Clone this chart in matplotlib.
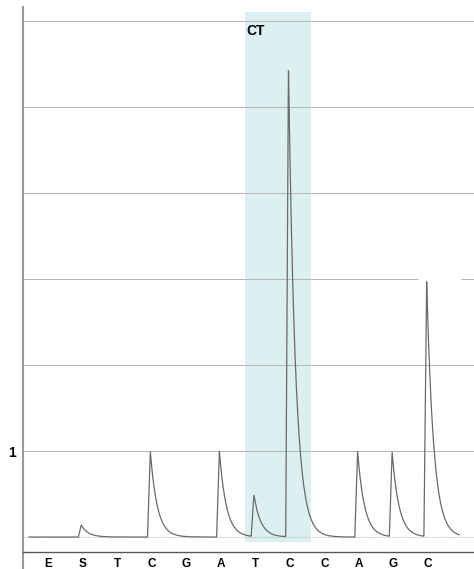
import matplotlib
matplotlib.use("Agg")
import matplotlib.pyplot as plt
import numpy as np

plt.rcParams['font.family'] = ['Liberation Sans', 'DejaVu Sans']

# dispensation order and peak heights (single-nucleotide units)
letters = ['E', 'S', 'T', 'C', 'G', 'A', 'T', 'C', 'C', 'A', 'G', 'C']
heights = [0.0, 0.14, 0.0, 1.0, 0.0, 1.0, 0.48, 5.47, 0.0, 1.0, 0.98, 2.97]
grid_levels = [0, 1, 2, 3, 4, 5, 6]
snp_label = 'CT'
snp_span = (5.70, 7.61)

fig = plt.figure(figsize=(4.74, 5.69), dpi=100)
ax = fig.add_axes([23/474, 17/569, 451/474, 545/569])
ax.set_xlim(-0.724, 12.33)
ax.set_ylim(-0.174, 6.163)

# highlighted variable position
ax.fill_between(snp_span, -0.06, 6.10, color='#dcf0f1', lw=0, zorder=0)
ax.text(snp_span[0] + 0.05, 5.88, snp_label, fontsize=10, fontweight='bold',
        va='center', ha='left')

# grid lines
gc = '#b4b4b4'
for lv in grid_levels:
    if lv == 3:
        ax.hlines(lv, -0.724, 10.71, color=gc, lw=0.7, zorder=1)
        ax.hlines(lv, 11.95, 12.33, color=gc, lw=0.7, zorder=1)
    elif lv == 0:
        ax.hlines(lv, -0.724, 12.33, color='#c0c0c0', lw=0.8, ls=(0, (1, 1)), zorder=1)
    else:
        ax.hlines(lv, -0.724, 12.33, color=gc, lw=0.7, zorder=1)

# pyrogram trace built from the peak heights
x = np.linspace(-0.55, 11.9, 4000)
y = np.zeros_like(x)
for i, h in enumerate(heights):
    t = x - (i - 0.04)
    rise = np.clip((t + 0.08) / 0.08, 0, 1) * (t < 0)
    decay = np.exp(-np.clip(t, 0, None) / 0.2) * (t >= 0)
    y += h * (rise + decay)
ax.plot(x, y, color='#6a6a6a', lw=0.9, zorder=3)

ax.set_xticks(range(len(letters)))
ax.set_xticklabels(letters, fontsize=8.5, fontweight='bold')
ax.set_yticks([1])
ax.set_yticklabels(['1'], fontsize=10, fontweight='bold')
ax.tick_params(length=0, pad=4)
ax.tick_params(axis='y', pad=5)

for s in ['top', 'right']:
    ax.spines[s].set_visible(False)
ax.spines['left'].set_color('#9a9a9a')
ax.spines['left'].set_linewidth(1.5)
ax.spines['bottom'].set_color('#555555')
ax.spines['bottom'].set_linewidth(1.0)
ax.plot([-0.724, -0.724], [-0.372, -0.174], color='#9a9a9a', lw=1.5, clip_on=False)

fig.savefig('out.png', dpi=100)
